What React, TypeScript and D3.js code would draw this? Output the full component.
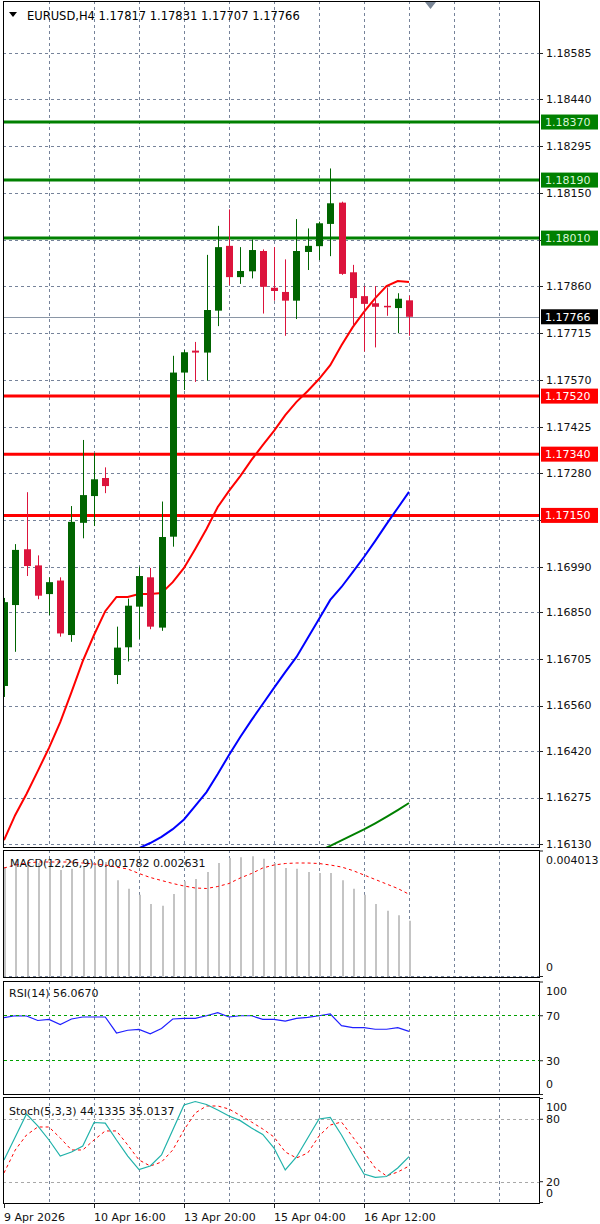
import React from 'react';
import * as d3 from 'd3';

// ---------- DATA ----------
const symbolTitle = 'EURUSD,H4';
const headerValues = ['1.17817', '1.17831', '1.17707', '1.17766'];
const lastPrice = 1.17766;

const timeLabels = ['9 Apr 2026', '10 Apr 16:00', '13 Apr 20:00', '15 Apr 04:00', '16 Apr 12:00'];
const timeLabelBars = [0, 8, 16, 24, 32];

const priceTicks = [1.18585, 1.1844, 1.18295, 1.1815, 1.18005, 1.1786, 1.17715, 1.1757, 1.17425, 1.1728, 1.17135, 1.1699, 1.1685, 1.16705, 1.1656, 1.1642, 1.16275, 1.1613];

const greenLevels = [1.1837, 1.1819, 1.1801];
const redLevels = [1.1752, 1.1734, 1.1715];

const openP = [1.16621, 1.16872, 1.17045, 1.16995, 1.16906, 1.16948, 1.16779, 1.17127, 1.1721, 1.17266, 1.16655, 1.16741, 1.16867, 1.16958, 1.16802, 1.17084, 1.17593, 1.17661, 1.17655, 1.17785, 1.17986, 1.17889, 1.17907, 1.1797, 1.17856, 1.17843, 1.17816, 1.17967, 1.17985, 1.18054, 1.1812, 1.17904, 1.1783, 1.17808, 1.178, 1.17793, 1.17817];
const highP = [1.16894, 1.17061, 1.17222, 1.17026, 1.16958, 1.16958, 1.17179, 1.17384, 1.17343, 1.17299, 1.16805, 1.16892, 1.16991, 1.16987, 1.17193, 1.17645, 1.17663, 1.17688, 1.17958, 1.18048, 1.18099, 1.17982, 1.18006, 1.17975, 1.17982, 1.17944, 1.18069, 1.1804, 1.18061, 1.18226, 1.18123, 1.17927, 1.17861, 1.17861, 1.17857, 1.17839, 1.17831];
const lowP = [1.16587, 1.16727, 1.16962, 1.1689, 1.16841, 1.16774, 1.16758, 1.17079, 1.17117, 1.17219, 1.16627, 1.16697, 1.16767, 1.16797, 1.16792, 1.17053, 1.17539, 1.17564, 1.17568, 1.17737, 1.17864, 1.17868, 1.17885, 1.17776, 1.17816, 1.17707, 1.17759, 1.17911, 1.17942, 1.17954, 1.17896, 1.17738, 1.17658, 1.17671, 1.17769, 1.17715, 1.17707];
const closeP = [1.16881, 1.17043, 1.16993, 1.16901, 1.16943, 1.16784, 1.1713, 1.17213, 1.17262, 1.17241, 1.1674, 1.1687, 1.16962, 1.16805, 1.17083, 1.17593, 1.17656, 1.17655, 1.17787, 1.17982, 1.17889, 1.17908, 1.17973, 1.17859, 1.17846, 1.17816, 1.1797, 1.17986, 1.18056, 1.18118, 1.17899, 1.17824, 1.17806, 1.17797, 1.17797, 1.17822, 1.17766];

const maRed = [1.16143, 1.16221, 1.16286, 1.16357, 1.16429, 1.16509, 1.16602, 1.16698, 1.16779, 1.16853, 1.16897, 1.16897, 1.16906, 1.16906, 1.16909, 1.16943, 1.16987, 1.17046, 1.17108, 1.17176, 1.17226, 1.17272, 1.17322, 1.17368, 1.17412, 1.17461, 1.17502, 1.17536, 1.17573, 1.17616, 1.17678, 1.17734, 1.17781, 1.17824, 1.17861, 1.17877, 1.17874];
const maBlue = [null, null, null, null, null, null, null, null, null, null, null, null, 1.16118, 1.16134, 1.16153, 1.16177, 1.16207, 1.16249, 1.16292, 1.16348, 1.16407, 1.16463, 1.16515, 1.16565, 1.16615, 1.16664, 1.16711, 1.1677, 1.16829, 1.16888, 1.16928, 1.16974, 1.17021, 1.17071, 1.17123, 1.17173, 1.17223];
const maGreen = [null, null, null, null, null, null, null, null, null, null, null, null, null, null, null, null, null, null, null, null, null, null, null, null, null, null, null, null, 1.16109, 1.16125, 1.16142, 1.16159, 1.16176, 1.16195, 1.16215, 1.16236, 1.16258];

const macdLabel = 'MACD(12,26,9) 0.001782 0.002631';
const macdMax = 0.004013;
const macdHist = [0.003501, 0.003684, 0.003629, 0.003629, 0.003629, 0.003405, 0.003447, 0.003524, 0.003629, 0.003661, 0.003076, 0.002808, 0.002616, 0.002318, 0.002264, 0.002638, 0.003044, 0.003118, 0.003342, 0.003629, 0.003789, 0.003812, 0.003844, 0.003767, 0.003629, 0.003469, 0.003447, 0.003342, 0.00331, 0.00331, 0.003076, 0.002808, 0.002616, 0.002318, 0.002104, 0.001957, 0.001782];
const macdSignal = [0.003469, 0.003565, 0.003629, 0.003661, 0.003661, 0.003661, 0.003661, 0.003629, 0.003597, 0.003565, 0.003501, 0.003437, 0.003294, 0.003166, 0.00307, 0.002974, 0.002894, 0.00283, 0.002814, 0.002878, 0.002974, 0.00315, 0.003294, 0.003469, 0.003565, 0.003613, 0.003629, 0.003629, 0.003613, 0.003565, 0.003501, 0.003389, 0.003246, 0.003102, 0.002958, 0.002814, 0.002631];

const rsiLabel = 'RSI(14) 56.0670';
const rsiLevels = [70, 30];
const rsiAxis = [100, 70, 30, 0];
const rsiValues = [68.3, 70.0, 69.8, 65.8, 66.8, 62.2, 67.1, 68.9, 68.9, 68.9, 54.7, 57.1, 57.8, 54.0, 58.7, 67.1, 67.7, 67.7, 70.0, 72.7, 68.9, 70.0, 70.0, 66.8, 66.8, 65.3, 67.6, 68.6, 70.0, 71.6, 61.2, 59.4, 59.4, 58.0, 58.0, 59.4, 56.067];

const stochLabel = 'Stoch(5,3,3) 44.1335 35.0137';
const stochLevels = [80, 20];
const stochAxis = [100, 80, 20, 0];
const stochMain = [40.9, 63.0, 85.1, 73.6, 60.1, 44.7, 48.6, 54.3, 76.9, 76.4, 60.1, 44.7, 31.7, 35.1, 45.7, 69.7, 93.8, 97.1, 94.2, 88.9, 83.2, 78.7, 71.6, 65.4, 52.4, 31.3, 43.8, 62.0, 80.3, 81.9, 64.9, 45.7, 27.4, 24.2, 25.0, 33.2, 44.1335];
const stochSignal = [28.4, 50.5, 64.9, 72.6, 72.6, 62.0, 50.5, 50.5, 60.1, 68.8, 68.8, 55.3, 40.9, 35.1, 38.9, 50.5, 69.7, 86.1, 92.8, 92.8, 89.9, 83.7, 77.4, 70.7, 63.0, 48.6, 42.8, 47.6, 63.9, 74.5, 77.4, 63.0, 48.6, 33.2, 25.5, 29.3, 35.0137];

// ---------- STYLE ----------
const FONT = 'DejaVu Sans, sans-serif';
const GRID = '#76839a';
const UP = '#006400';
const DOWN = '#dc143c';

export default function App() {
  const L = 3, R = 539;
  const mainP = { top: 1, bottom: 847 };
  const macdP = { top: 850, bottom: 977 };
  const rsiP = { top: 981, bottom: 1094 };
  const stP = { top: 1097, bottom: 1203 };
  const n = closeP.length;

  const x = d3.scaleLinear().domain([0, n - 1]).range([4, 409]);
  const y = d3.scaleLinear().domain([d3.min(priceTicks)!, d3.max(priceTicks)!]).range([844.3, 52.7]);
  const ym = d3.scaleLinear().domain([0, macdMax]).range([976.5, 851]);
  const yr = d3.scaleLinear().domain([0, 100]).range([1094.5, 982]);
  const ys = d3.scaleLinear().domain([0, 100]).range([1202.5, 1098.5]);

  const gridBars = d3.range(4, 45, 4);
  const boxLevels = [...greenLevels, ...redLevels, lastPrice];

  const mkLine = (sc: d3.ScaleLinear<number, number>) =>
    d3.line<number | null>().defined((v) => v != null).x((_, i) => x(i)).y((v) => sc(v as number));

  const vGrid = (top: number, bottom: number, key: string) =>
    gridBars.map((b) => (
      <line key={key + b} x1={Math.round(x(b)) + 0.5} x2={Math.round(x(b)) + 0.5} y1={top} y2={bottom}
        stroke={GRID} strokeDasharray="3,3" strokeWidth={1} />
    ));

  const clampLabel = (v: number, top: number, bottom: number) => Math.max(top + 10, Math.min(bottom - 10, v));

  const axisText = (key: string, yy: number, text: string) => (
    <text key={key} x={546} y={yy} dy="0.35em" fontSize={11} fontFamily={FONT} fill="#111">{text}</text>
  );

  const levelBox = (key: string, price: number, bg: string, fg: string) => {
    const yy = y(price);
    return (
      <g key={key}>
        <rect x={541} y={yy - 7.5} width={57} height={15} fill={bg} />
        <text x={545} y={yy} dy="0.36em" fontSize={11} fontFamily={FONT} fill={fg}>{price.toFixed(5)}</text>
      </g>
    );
  };

  return (
    <svg width={600} height={1224} style={{ position: 'absolute', left: 0, top: 0, background: '#fff' }}
      xmlns="http://www.w3.org/2000/svg">
      <defs>
        <clipPath id="cMain"><rect x={L} y={mainP.top} width={R - L} height={mainP.bottom - mainP.top} /></clipPath>
        <clipPath id="cMacd"><rect x={L} y={macdP.top} width={R - L} height={macdP.bottom - macdP.top} /></clipPath>
        <clipPath id="cRsi"><rect x={L} y={rsiP.top} width={R - L} height={rsiP.bottom - rsiP.top} /></clipPath>
        <clipPath id="cSt"><rect x={L} y={stP.top} width={R - L} height={stP.bottom - stP.top} /></clipPath>
      </defs>
      <rect x={0} y={0} width={600} height={1224} fill="#fff" />

      {/* ===== MAIN PANEL ===== */}
      <g clipPath="url(#cMain)">
        {priceTicks.map((t) => (
          <line key={'hg' + t} x1={L} x2={R} y1={Math.round(y(t)) + 0.5} y2={Math.round(y(t)) + 0.5}
            stroke={GRID} strokeDasharray="3,3" />
        ))}
        {vGrid(mainP.top, mainP.bottom, 'mv')}
        <line x1={L} x2={R} y1={Math.round(y(lastPrice)) + 0.5} y2={Math.round(y(lastPrice)) + 0.5} stroke="#8a96a6" strokeWidth={1} />
        {greenLevels.map((p) => (
          <line key={'gl' + p} x1={L} x2={R} y1={y(p)} y2={y(p)} stroke="#008000" strokeWidth={3} />
        ))}
        {redLevels.map((p) => (
          <line key={'rl' + p} x1={L} x2={R} y1={y(p)} y2={y(p)} stroke="#ff0000" strokeWidth={3} />
        ))}
        <path d={mkLine(y)(maGreen) || ''} fill="none" stroke="#008000" strokeWidth={2} />
        <path d={mkLine(y)(maBlue) || ''} fill="none" stroke="#0000ff" strokeWidth={2} />
        <path d={mkLine(y)(maRed) || ''} fill="none" stroke="#ff0000" strokeWidth={2} />
        {closeP.map((c, i) => {
          const o = openP[i];
          const up = c >= o;
          const col = up ? UP : DOWN;
          const cx = Math.round(x(i));
          const yTop = y(Math.max(o, c));
          const yBot = y(Math.min(o, c));
          return (
            <g key={'c' + i}>
              <line x1={cx + 0.5} x2={cx + 0.5} y1={y(highP[i])} y2={y(lowP[i])} stroke={col} strokeWidth={1} />
              <rect x={cx - 3} y={yTop} width={7} height={Math.max(1.5, yBot - yTop)} fill={col} />
            </g>
          );
        })}
      </g>
      <path d="M9,12 L17,12 L13,17 Z" fill="#000" />
      <text x={27} y={19.5} fontSize={11.5} fontFamily={FONT} fill="#000">
        {symbolTitle + '  ' + headerValues.join(' ')}
      </text>
      <path d="M425,2 L436,2 L430.5,9 Z" fill="#7b8797" />
      <rect x={L + 0.5} y={mainP.top + 0.5} width={R - L} height={mainP.bottom - mainP.top} fill="none" stroke="#000" strokeWidth={1} />

      {priceTicks.map((t) => {
        const hidden = boxLevels.some((b) => Math.abs(y(b) - y(t)) < 9);
        return (
          <g key={'pt' + t}>
            <line x1={R} x2={R + 4} y1={Math.round(y(t)) + 0.5} y2={Math.round(y(t)) + 0.5} stroke="#222" />
            {hidden ? null : axisText('ptl' + t, y(t), t.toFixed(5))}
          </g>
        );
      })}
      {greenLevels.map((p) => levelBox('gb' + p, p, '#008000', '#d8f5d8'))}
      {redLevels.map((p) => levelBox('rb' + p, p, '#ff0000', '#ffffff'))}
      {levelBox('cur', lastPrice, '#000000', '#ffffff')}

      {/* ===== MACD ===== */}
      <g clipPath="url(#cMacd)">
        {vGrid(macdP.top, macdP.bottom, 'mdv')}
        <line x1={L} x2={R} y1={Math.round(ym(0)) - 0.5} y2={Math.round(ym(0)) - 0.5} stroke={GRID} strokeDasharray="3,3" />
        {macdHist.map((v, i) => (
          <line key={'h' + i} x1={Math.round(x(i)) + 1} x2={Math.round(x(i)) + 1} y1={ym(0)} y2={ym(v)}
            stroke="#c4c4c4" strokeWidth={2} />
        ))}
        <path d={mkLine(ym)(macdSignal) || ''} fill="none" stroke="#ff0000" strokeWidth={1} strokeDasharray="3,3" />
      </g>
      <text x={10} y={867} fontSize={11} fontFamily={FONT} fill="#111">{macdLabel}</text>
      <rect x={L + 0.5} y={macdP.top + 0.5} width={R - L} height={macdP.bottom - macdP.top} fill="none" stroke="#000" />
      {[macdMax, 0].map((v) => (
        <g key={'ma' + v}>
          <line x1={R} x2={R + 4} y1={ym(v)} y2={ym(v)} stroke="#222" />
          {axisText('mat' + v, clampLabel(ym(v), macdP.top, macdP.bottom), v === 0 ? '0' : v.toFixed(6))}
        </g>
      ))}

      {/* ===== RSI ===== */}
      <g clipPath="url(#cRsi)">
        {vGrid(rsiP.top, rsiP.bottom, 'rv')}
        <path d={mkLine(yr)(rsiValues) || ''} fill="none" stroke="#1f1fff" strokeWidth={1.2} />
      </g>
      {rsiLevels.map((lv) => (
        <path key={'rlv' + lv} d={`M${L + 1},${Math.floor(yr(lv)) + 0.5}H${R}`} fill="none"
          stroke="#00a000" strokeWidth={1} strokeDasharray="3,3" />
      ))}
      <text x={9} y={997} fontSize={11} fontFamily={FONT} fill="#111">{rsiLabel}</text>
      <rect x={L + 0.5} y={rsiP.top + 0.5} width={R - L} height={rsiP.bottom - rsiP.top} fill="none" stroke="#000" />
      {rsiAxis.map((v) => (
        <g key={'ra' + v}>
          <line x1={R} x2={R + 4} y1={yr(v)} y2={yr(v)} stroke="#222" />
          {axisText('rat' + v, clampLabel(yr(v), rsiP.top, rsiP.bottom), String(v))}
        </g>
      ))}

      {/* ===== STOCH ===== */}
      <g clipPath="url(#cSt)">
        {vGrid(stP.top, stP.bottom, 'sv')}
        {stochLevels.map((lv) => (
          <line key={'slv' + lv} x1={L} x2={R} y1={Math.round(ys(lv)) + 0.5} y2={Math.round(ys(lv)) + 0.5}
            stroke="#a8a8a8" strokeDasharray="3,3" />
        ))}
        <path d={mkLine(ys)(stochSignal) || ''} fill="none" stroke="#ff0000" strokeWidth={1} strokeDasharray="3,3" />
        <path d={mkLine(ys)(stochMain) || ''} fill="none" stroke="#20b2aa" strokeWidth={1.2} />
      </g>
      <text x={9} y={1115} fontSize={11} fontFamily={FONT} fill="#111">{stochLabel}</text>
      <rect x={L + 0.5} y={stP.top + 0.5} width={R - L} height={stP.bottom - stP.top} fill="none" stroke="#000" />
      {stochAxis.map((v) => (
        <g key={'sa' + v}>
          <line x1={R} x2={R + 4} y1={ys(v)} y2={ys(v)} stroke="#222" />
          {axisText('sat' + v, clampLabel(ys(v), stP.top, stP.bottom), String(v))}
        </g>
      ))}

      {/* ===== TIME AXIS ===== */}
      {timeLabelBars.map((b, k) => (
        <g key={'ta' + b}>
          <line x1={Math.round(x(b)) + 0.5} x2={Math.round(x(b)) + 0.5} y1={stP.bottom} y2={stP.bottom + 5} stroke="#222" />
          <text x={Math.round(x(b))} y={1221} fontSize={11} fontFamily={FONT} fill="#111">{timeLabels[k]}</text>
        </g>
      ))}
    </svg>
  );
}
